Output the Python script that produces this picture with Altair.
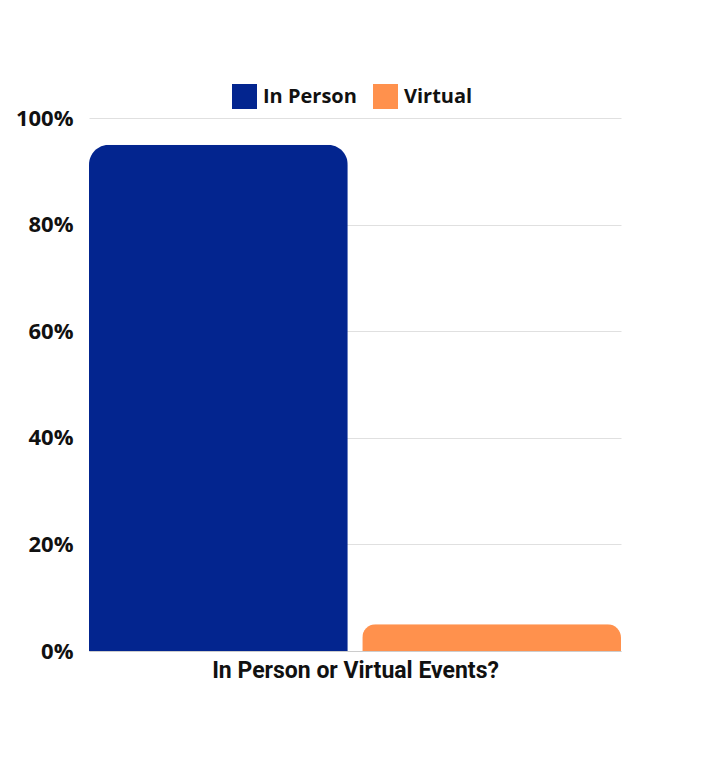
import altair as alt
import pandas as pd

categories = ["In Person", "Virtual"]
values = [95, 5]
colors = ["#03258F", "#FF914D"]

df = pd.DataFrame({"mode": categories, "pct": values})

chart = alt.Chart(df).mark_bar(
    cornerRadiusTopLeft=20, cornerRadiusTopRight=20
).encode(
    x=alt.X("mode:N", sort=categories,
            scale=alt.Scale(paddingInner=0.053, paddingOuter=0),
            axis=alt.Axis(title="In Person or Virtual Events?", labels=False, ticks=False,
                          domain=True, domainColor="#cccccc", titleFontSize=23,
                          titleFont="Roboto", titleFontWeight="bold", titleColor="#111111",
                          titlePadding=8)),
    y=alt.Y("pct:Q", scale=alt.Scale(domain=[0, 100]),
            axis=alt.Axis(title=None, values=[0, 20, 40, 60, 80, 100],
                          labelExpr="datum.value + '%'", domain=False, ticks=False,
                          labelFontSize=22, labelFont="Open Sans", labelFontWeight="bold",
                          labelColor="#111111", labelPadding=16,
                          gridColor="#e0e0e0", gridWidth=1)),
    color=alt.Color("mode:N", sort=categories,
                    scale=alt.Scale(domain=categories, range=colors),
                    legend=alt.Legend(title=None, orient="none", direction="horizontal",
                                      legendX=143, legendY=-34,
                                      symbolType="square", symbolSize=625,
                                      symbolStrokeWidth=0, symbolOpacity=1,
                                      labelFontSize=20, labelFont="Open Sans",
                                      labelFontWeight="bold", labelColor="#111111",
                                      labelOffset=6, columnPadding=16)),
).properties(
    width=532, height=533,
    padding={"top": 76, "left": 7, "right": 10, "bottom": 10},
).configure_view(stroke=None)

chart.save("out.html", embed_options={"renderer": "svg", "actions": False})
